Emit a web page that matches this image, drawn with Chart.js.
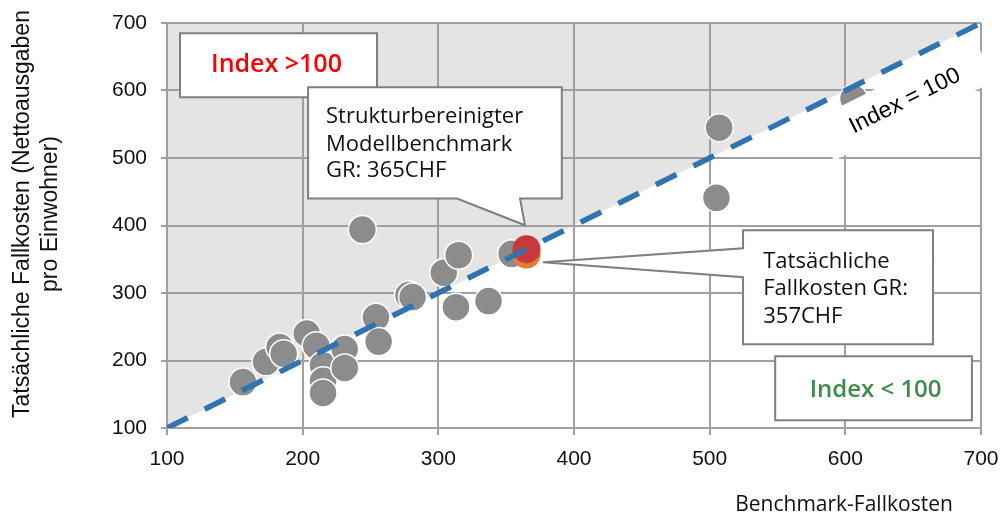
<!DOCTYPE html>
<html lang="de">
<head>
<meta charset="utf-8">
<title>Fallkosten</title>
<script src="https://cdn.jsdelivr.net/npm/chart.js@4"></script>
<style>
  html, body { margin: 0; padding: 0; background: #fff; }
  #grafica { display: block; }
</style>
</head>
<body>
<canvas id="grafica" width="1004" height="515"></canvas>
<script>
// Datos: Benchmark-Fallkosten (x) y tatsächliche Fallkosten (y) por caso
const benchmarkX = [156, 173, 183, 186, 203, 210, 215, 215, 215, 231, 231, 244, 254, 256, 278, 281, 304, 313, 315, 337, 354, 505, 507, 606];
const fallkostenY = [168, 198, 220, 210, 240, 222, 193, 170, 152, 217, 189, 394, 264, 228, 297, 294, 330, 279, 356, 288, 358, 441, 545, 588];

// Graubünden: modelo y valor real
const modellGRX = [365];
const modellGRY = [365];
const tatsGRX = [365];
const tatsGRY = [357];

// Línea Index = 100
const indexX = [100, 700];
const indexY = [100, 700];

// Ejes
const ticksX = [100, 200, 300, 400, 500, 600, 700];
const ticksY = [100, 200, 300, 400, 500, 600, 700];
const tituloX = 'Benchmark-Fallkosten';
const tituloY = ['Tatsächliche Fallkosten (Nettoausgaben', 'pro Einwohner)'];

// Textos de las anotaciones
const textoModell = ['Strukturbereinigter', 'Modellbenchmark', 'GR: 365CHF'];
const textoTats = ['Tatsächliche', 'Fallkosten GR:', '357CHF'];
const textoMayor = 'Index >100';
const textoMenor = 'Index < 100';
const textoLinea = 'Index = 100';

const ctx = document.getElementById('grafica').getContext('2d');

const fuenteTicks = 'Liberation Sans';
const fuenteNotas = '"Open Sans"';
const borde = '#7f7f7f';

function pares(xs, ys) {
    return xs.map((x, i) => ({ x: x, y: ys[i] }));
}

function pos(chart, x, y) {
    return [chart.scales.x.getPixelForValue(x), chart.scales.y.getPixelForValue(y)];
}

// Zona gris por encima de la diagonal (debajo de la rejilla)
const fondoDiagonal = {
    id: 'fondoDiagonal',
    beforeDraw(chart) {
        const c = chart.ctx;
        const a = pos(chart, indexX[0], indexY[0]);
        const b = pos(chart, indexX[1], indexY[1]);
        const d = pos(chart, indexX[0], indexY[1]);
        c.save();
        c.fillStyle = '#e4e4e4';
        c.beginPath();
        c.moveTo(a[0], a[1]);
        c.lineTo(b[0], b[1]);
        c.lineTo(d[0], d[1]);
        c.closePath();
        c.fill();
        c.restore();
    }
};

// Etiqueta girada "Index = 100" (debajo de la línea discontinua)
const etiquetaLinea = {
    id: 'etiquetaLinea',
    afterDatasetDraw(chart, args) {
        if (args.index !== 3) return;
        const c = chart.ctx;
        const a = pos(chart, indexX[0], indexY[0]);
        const b = pos(chart, indexX[1], indexY[1]);
        const ang = Math.atan2(b[1] - a[1], b[0] - a[0]);
        const p = pos(chart, 632.1, 632.1);
        c.save();
        c.translate(p[0], p[1]);
        c.rotate(ang);
        c.translate(0, 36);
        c.fillStyle = '#ffffff';
        c.fillRect(-90, -24, 180, 46);
        c.fillStyle = '#000';
        c.font = '23px ' + fuenteTicks;
        c.textAlign = 'center';
        c.textBaseline = 'middle';
        c.fillText(textoLinea, 0, 0);
        c.restore();
    }
};

function caja(c, x1, y1, x2, y2) {
    c.beginPath();
    c.rect(x1, y1, x2 - x1, y2 - y1);
    c.fillStyle = '#fff';
    c.fill();
    c.stroke();
}

// Cajas de texto y títulos de ejes
const anotaciones = {
    id: 'anotaciones',
    afterDraw(chart) {
        const c = chart.ctx;
        c.save();
        c.strokeStyle = borde;
        c.lineWidth = 2;
        c.lineJoin = 'miter';

        // Caja "Index >100"
        let p1 = pos(chart, 109.6, 684.7), p2 = pos(chart, 254.8, 590);
        caja(c, p1[0], p1[1], p2[0], p2[1]);
        let t = pos(chart, 180.7, 637.5);
        c.fillStyle = '#ff0000';
        c.font = '600 25px ' + fuenteNotas;
        c.textAlign = 'center';
        c.textBaseline = 'middle';
        c.fillText(textoMayor, t[0], t[1]);

        // Caja "Index < 100"
        p1 = pos(chart, 548.3, 206.4); p2 = pos(chart, 693.3, 111.6);
        caja(c, p1[0], p1[1], p2[0], p2[1]);
        t = pos(chart, 622.3, 155.9);
        c.fillStyle = '#3c8c4c';
        c.font = '600 24px ' + fuenteNotas;
        c.fillText(textoMenor, t[0], t[1]);

        // Globo del modelo (puntero hacia abajo)
        p1 = pos(chart, 204, 604.7); p2 = pos(chart, 391, 440);
        let b1 = pos(chart, 313.8, 440)[0], b2 = pos(chart, 360.2, 440)[0];
        let tip = pos(chart, 363.9, 400.3);
        c.beginPath();
        c.moveTo(p1[0], p1[1]);
        c.lineTo(p2[0], p1[1]);
        c.lineTo(p2[0], p2[1]);
        c.lineTo(b2, p2[1]);
        c.lineTo(tip[0], tip[1]);
        c.lineTo(b1, p2[1]);
        c.lineTo(p1[0], p2[1]);
        c.closePath();
        c.fillStyle = '#fff';
        c.fill();
        c.stroke();
        c.fillStyle = '#111';
        c.font = '22px ' + fuenteNotas;
        c.textAlign = 'left';
        [560.7, 520.3, 480.7].forEach((yv, i) => {
            const q = pos(chart, 217.2, yv);
            c.fillText(textoModell[i], q[0], q[1]);
        });

        // Globo del valor real (puntero hacia la izquierda)
        p1 = pos(chart, 524.6, 392.9); p2 = pos(chart, 664.6, 224);
        b1 = pos(chart, 524.6, 366.2)[1]; b2 = pos(chart, 524.6, 323.3)[1];
        tip = pos(chart, 377.1, 345.5);
        c.beginPath();
        c.moveTo(p1[0], p1[1]);
        c.lineTo(p2[0], p1[1]);
        c.lineTo(p2[0], p2[1]);
        c.lineTo(p1[0], p2[1]);
        c.lineTo(p1[0], b2);
        c.lineTo(tip[0], tip[1]);
        c.lineTo(p1[0], b1);
        c.closePath();
        c.fillStyle = '#fff';
        c.fill();
        c.stroke();
        c.fillStyle = '#111';
        [346, 306.5, 265.5].forEach((yv, i) => {
            const q = pos(chart, 539.5, yv);
            c.fillText(textoTats[i], q[0], q[1]);
        });

        // Títulos de los ejes
        c.fillStyle = '#111';
        c.font = '21px ' + fuenteNotas;
        c.textAlign = 'center';
        c.fillText(tituloX, 844, 505);

        c.translate(37, 214);
        c.rotate(-Math.PI / 2);
        c.font = '23px ' + fuenteTicks;
        c.fillText(tituloY[0], 0, -14);
        c.fillText(tituloY[1], 0, 14);
        c.restore();
    }
};

const config = {
    type: 'scatter',
    data: {
        datasets: [
            {
                type: 'line',
                label: 'Index = 100',
                data: pares(indexX, indexY),
                borderColor: '#2f74b0',
                borderWidth: 5.5,
                borderDash: [23, 19],
                pointRadius: 0,
                fill: false,
                order: 0
            },
            {
                label: 'Modellbenchmark GR',
                data: pares(modellGRX, modellGRY),
                backgroundColor: '#c8393b',
                borderColor: '#c8393b',
                borderWidth: 0,
                pointRadius: 14,
                order: 1
            },
            {
                label: 'Tatsächliche Fallkosten GR',
                data: pares(tatsGRX, tatsGRY),
                backgroundColor: '#e27d33',
                borderColor: '#e27d33',
                borderWidth: 0,
                pointRadius: 14,
                order: 2
            },
            {
                label: 'Fallkosten',
                data: pares(benchmarkX, fallkostenY),
                backgroundColor: '#8c8c8c',
                borderColor: '#ffffff',
                borderWidth: 1.5,
                pointRadius: 14,
                order: 3
            }
        ]
    },
    options: {
        responsive: false,
        animation: false,
        events: [],
        layout: { padding: { top: 23, right: 23, left: 0, bottom: 0 } },
        plugins: {
            legend: { display: false },
            tooltip: { enabled: false }
        },
        scales: {
            x: {
                type: 'linear',
                min: 100,
                max: 700,
                afterBuildTicks: (s) => { s.ticks = ticksX.map(v => ({ value: v })); },
                afterFit: (s) => { s.height = 87; s.paddingLeft = 0; s.paddingRight = 0; },
                grid: { color: '#a0a0a0', lineWidth: 2, tickLength: 7 },
                border: { color: '#a0a0a0', width: 2 },
                ticks: { color: '#111', padding: 12, font: { family: fuenteTicks, size: 21 } }
            },
            y: {
                type: 'linear',
                min: 100,
                max: 700,
                afterBuildTicks: (s) => { s.ticks = ticksY.map(v => ({ value: v })); },
                afterFit: (s) => { s.width = 167; s.paddingTop = 0; s.paddingBottom = 0; },
                grid: { color: '#a0a0a0', lineWidth: 2, tickLength: 6 },
                border: { color: '#a0a0a0', width: 2 },
                ticks: { color: '#111', padding: 14, font: { family: fuenteTicks, size: 21 } }
            }
        }
    },
    plugins: [fondoDiagonal, etiquetaLinea, anotaciones]
};

const grafica = new Chart(ctx, config);
</script>
</body>
</html>
